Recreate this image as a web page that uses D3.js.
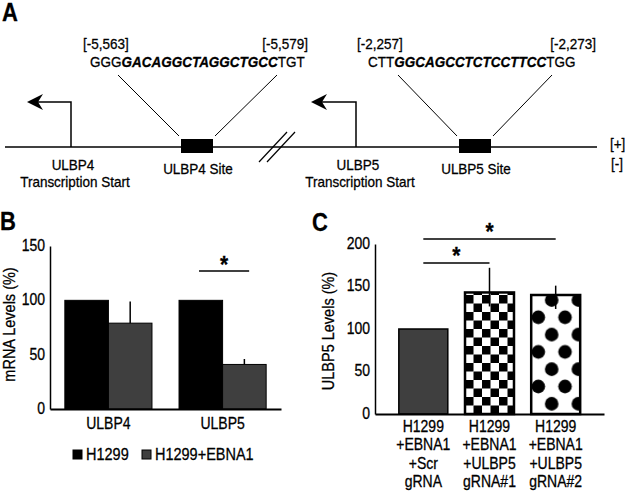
<!DOCTYPE html>
<html><head><meta charset="utf-8">
<script src="https://cdn.jsdelivr.net/npm/d3@7"></script>
<style>
body{margin:0;background:#fff}
svg{display:block}
text{font-family:"Liberation Sans",Arial,Helvetica,sans-serif;fill:#000;stroke:#000;stroke-width:0.25px}
</style>
</head><body>
<script>
// ---------- Panel A (schematic) ----------
const siteLabels = ["ULBP4 Site", "ULBP5 Site"];
const tssLabels = ["ULBP4", "ULBP5"];
const siteStartCoords = ["[-5,563]", "[-2,257]"];
const siteEndCoords = ["[-5,579]", "[-2,273]"];
const seqPrefix = ["GGG", "CTT"];
const seqTarget = ["GACAGGCTAGGCTGCC", "GGCAGCCTCTCCTTCC"];
const seqSuffix = ["TGT", "TGG"];
const strandLabels = ["[+]", "[-]"];

// ---------- Panel B ----------
const bCategories = ["ULBP4", "ULBP5"];
const bSeries = ["H1299", "H1299+EBNA1"];
const bH1299 = [100, 100];
const bEBNA1 = [79, 41];
const bEBNA1Err = [20, 5];
const bTicks = [0, 50, 100, 150];
const bYLabel = "mRNA Levels (%)";

// ---------- Panel C ----------
const cCategories = [
  ["H1299", "+EBNA1", "+Scr", "gRNA"],
  ["H1299", "+EBNA1", "+ULBP5", "gRNA#1"],
  ["H1299", "+EBNA1", "+ULBP5", "gRNA#2"]
];
const cValues = [100, 143, 140];
const cErrors = [0, 29, 11];
const cTicks = [0, 50, 100, 150, 200];
const cYLabel = "ULBP5 Levels (%)";

const W = 625, H = 491;
const svg = d3.select("body").append("svg").attr("width", W).attr("height", H);
const FONT = 14;
const DARK = "#3f3f3f";
const STRETCH = 1.15;

// Panel letters
[["A", 2, 21], ["B", 0, 230], ["C", 312, 231]].forEach(([t, x, y]) =>
  svg.append("text").attr("x", x).attr("y", y).attr("font-size", 22).attr("font-weight", "bold").text(t));

// ===== Panel A =====
const A = svg.append("g");
const ax = d3.scaleLinear().domain([0, 100]).range([5, 597]);
const lineY = 147;
A.append("line").attr("x1", ax(0)).attr("x2", ax(100)).attr("y1", lineY).attr("y2", lineY)
  .attr("stroke", "#000").attr("stroke-width", 1.5);
[0, 8].forEach(dx => {
  A.append("line").attr("x1", 259 + dx).attr("y1", 162).attr("x2", 287 + dx).attr("y2", 132)
    .attr("stroke", "#000").attr("stroke-width", 1.2);
});
const tssX = [71, 356], tipX = [27, 311];
const boxX = [181, 459];
const seqX = [90, 368];
const startX = [83, 357], endX = [308, 596];
const lineTop = [[118, 277], [398, 552]];
tssLabels.forEach((lab, i) => {
  A.append("path").attr("d", `M${tssX[i]},${lineY}V102H${tipX[i] + 10}`)
    .attr("fill", "none").attr("stroke", "#000").attr("stroke-width", 1.5);
  A.append("path").attr("d", `M${tipX[i]},102L${tipX[i] + 16},94L${tipX[i] + 11},102L${tipX[i] + 16},110Z`)
    .attr("fill", "#000");
  A.append("text").attr("x", tssX[i] + 2).attr("y", 170).attr("text-anchor", "middle").attr("font-size", 13.5).text(lab);
  A.append("text").attr("x", tssX[i] + 4).attr("y", 187).attr("text-anchor", "middle").attr("font-size", 13.5).text("Transcription Start");
  A.append("rect").attr("x", boxX[i]).attr("y", 139).attr("width", 32).attr("height", 14).attr("fill", "#000");
  A.append("text").attr("x", boxX[i] + 17).attr("y", 174).attr("text-anchor", "middle").attr("font-size", 13.5).text(siteLabels[i]);
  A.append("line").attr("x1", lineTop[i][0]).attr("y1", 75).attr("x2", boxX[i] - 2).attr("y2", 136)
    .attr("stroke", "#000").attr("stroke-width", 1);
  A.append("line").attr("x1", lineTop[i][1]).attr("y1", 75).attr("x2", boxX[i] + 34).attr("y2", 136)
    .attr("stroke", "#000").attr("stroke-width", 1);
  A.append("text").attr("x", startX[i]).attr("y", 49).attr("font-size", 13.5).text(siteStartCoords[i]);
  A.append("text").attr("x", endX[i]).attr("y", 49).attr("text-anchor", "end").attr("font-size", 13.5).text(siteEndCoords[i]);
  const t = A.append("text").attr("x", seqX[i]).attr("y", 67).attr("font-size", 13.5);
  t.append("tspan").text(seqPrefix[i]);
  t.append("tspan").attr("font-weight", "bold").attr("font-style", "italic").text(seqTarget[i]);
  t.append("tspan").text(seqSuffix[i]);
});
A.append("text").attr("x", 610).attr("y", 149).attr("font-size", 13.5).text(strandLabels[0]);
A.append("text").attr("x", 611).attr("y", 169).attr("font-size", 13.5).text(strandLabels[1]);

// ===== Panel B =====
const B = svg.append("g");
const by = d3.scaleLinear().domain([0, 150]).range([409, 246]);
const bx = d3.scaleBand().domain(bCategories).range([50, 281]).paddingInner(0.237).paddingOuter(0.13);
const bsub = d3.scaleBand().domain(bSeries).range([0, bx.bandwidth()]);
const bColors = d3.scaleOrdinal().domain(bSeries).range(["#000", DARK]);
const bData = bCategories.map((c, i) => ({ c, vals: [bH1299[i], bEBNA1[i]], errs: [0, bEBNA1Err[i]] }));

bData.forEach(d => {
  bSeries.forEach((s, j) => {
    B.append("rect").attr("x", bx(d.c) + bsub(s)).attr("y", by(d.vals[j]))
      .attr("width", bsub.bandwidth()).attr("height", by(0) - by(d.vals[j]))
      .attr("fill", bColors(s)).attr("stroke", "#000").attr("stroke-width", 1);
    if (d.errs[j] > 0) {
      const cxm = bx(d.c) + bsub(s) + bsub.bandwidth() / 2;
      B.append("line").attr("x1", cxm).attr("x2", cxm).attr("y1", by(d.vals[j])).attr("y2", by(d.vals[j] + d.errs[j]))
        .attr("stroke", "#000").attr("stroke-width", 1.5);
    }
  });
});
const bYAxis = B.append("g").attr("transform", "translate(50,0)")
  .call(d3.axisLeft(by).tickValues(bTicks).tickSize(0).tickSizeOuter(0).tickPadding(5));
bYAxis.selectAll("text").attr("font-size", FONT).attr("font-family", null);
bYAxis.select(".domain").attr("stroke-width", 1.5);
const bXAxis = B.append("g").attr("transform", `translate(0,${by(0)})`)
  .call(d3.axisBottom(bx).tickSize(0).tickSizeOuter(0).tickPadding(10));
bXAxis.selectAll("text").attr("font-size", FONT).attr("font-family", null);
bXAxis.select(".domain").attr("stroke-width", 2);
B.append("text").attr("data-rot", 1).attr("transform", `translate(15,${(by(0) + by(150)) / 2 - 3}) rotate(-90)`)
  .attr("text-anchor", "middle").attr("font-size", 14.5).text(bYLabel);
{
  const g = bData[1];
  const x1 = bx(g.c) + 20, x2 = bx(g.c) + bx.bandwidth() - 17;
  B.append("line").attr("x1", x1).attr("x2", x2).attr("y1", 271).attr("y2", 271).attr("stroke", "#000").attr("stroke-width", 1.5);
  B.append("text").attr("x", (x1 + x2) / 2).attr("y", 273).attr("text-anchor", "middle").attr("font-size", 21).attr("font-weight", "bold").text("*");
}
const legX = [73, 142];
bSeries.forEach((s, j) => {
  B.append("rect").attr("x", legX[j]).attr("y", 450).attr("width", 9).attr("height", 9)
    .attr("fill", bColors(s)).attr("stroke", "#000").attr("stroke-width", 1);
  B.append("text").attr("x", legX[j] + 13).attr("y", 460).attr("font-size", 14.5).text(s);
});

// ===== Panel C =====
const C = svg.append("g");
const cy = d3.scaleLinear().domain([0, 200]).range([414, 244]);
const cKeys = cCategories.map((c, i) => "c" + i);
const cx = d3.scaleBand().domain(cKeys).range([375, 604]).paddingInner(0.26).paddingOuter(0.36);
const defs = svg.append("defs");
const cell = 8.5;
const chk = defs.append("pattern").attr("id", "checker").attr("patternUnits", "userSpaceOnUse")
  .attr("x", cx("c1")).attr("y", cy(0)).attr("width", cell * 2).attr("height", cell * 2);
chk.append("rect").attr("width", cell * 2).attr("height", cell * 2).attr("fill", "#fff");
chk.append("rect").attr("width", cell).attr("height", cell).attr("fill", "#000");
chk.append("rect").attr("x", cell).attr("y", cell).attr("width", cell).attr("height", cell).attr("fill", "#000");
const pw = 26.7, ph = 34.6, pr = 6.8;
const dot = defs.append("pattern").attr("id", "dots").attr("patternUnits", "userSpaceOnUse")
  .attr("x", cx("c2") + cx.bandwidth() / 2 - 4).attr("y", cy(cValues[2]) + 5).attr("width", pw).attr("height", ph);
dot.append("rect").attr("width", pw).attr("height", ph).attr("fill", "#fff");
[[0, 0], [pw, 0], [0, ph], [pw, ph], [pw / 2, ph / 2]].forEach(([x, y]) =>
  dot.append("circle").attr("cx", x).attr("cy", y).attr("r", pr).attr("fill", "#000"));
const cFills = [DARK, "url(#checker)", "url(#dots)"];
const cStroke = [1.5, 2.5, 2.5];
cKeys.forEach((k, i) => {
  C.append("rect").attr("x", cx(k)).attr("y", cy(cValues[i])).attr("width", cx.bandwidth())
    .attr("height", cy(0) - cy(cValues[i])).attr("fill", cFills[i]).attr("stroke", "#000").attr("stroke-width", cStroke[i]);
  if (cErrors[i] > 0) {
    const mx = cx(k) + cx.bandwidth() / 2;
    C.append("line").attr("x1", mx).attr("x2", mx).attr("y1", cy(cValues[i]) + 14).attr("y2", cy(cValues[i] + cErrors[i]))
      .attr("stroke", "#000").attr("stroke-width", 1.5);
  }
});
const cYAxis = C.append("g").attr("transform", "translate(375,0)")
  .call(d3.axisLeft(cy).tickValues(cTicks).tickSize(0).tickSizeOuter(0).tickPadding(5));
cYAxis.selectAll("text").attr("font-size", FONT).attr("font-family", null);
cYAxis.select(".domain").attr("stroke-width", 1.5);
const cXAxis = C.append("g").attr("transform", `translate(0,${cy(0)})`)
  .call(d3.axisBottom(cx).tickSize(0).tickSizeOuter(0).tickFormat(() => ""));
cXAxis.select(".domain").attr("stroke-width", 2);
cKeys.forEach((k, i) => {
  cCategories[i].forEach((line, j) => {
    C.append("text").attr("text-anchor", "middle").attr("font-size", FONT)
      .attr("x", cx(k) + cx.bandwidth() / 2).attr("y", cy(0) + 18 + j * 18.4).text(line);
  });
});
C.append("text").attr("data-rot", 1).attr("transform", `translate(334,${(cy(0) + cy(200)) / 2 + 2}) rotate(-90)`)
  .attr("text-anchor", "middle").attr("font-size", 14.5).text(cYLabel);
const sig = [[0, 1, 263], [0, 2, 239]];
sig.forEach(([a, b, y]) => {
  const x1 = cx(cKeys[a]) + cx.bandwidth() / 2;
  const x2 = cx(cKeys[b]) + cx.bandwidth() / 2;
  C.append("line").attr("x1", x1).attr("x2", x2).attr("y1", y).attr("y2", y).attr("stroke", "#000").attr("stroke-width", 1.5);
  C.append("text").attr("x", (x1 + x2) / 2).attr("y", y + 1).attr("text-anchor", "middle")
    .attr("font-size", 21).attr("font-weight", "bold").text("*");
});

// Reference type is slightly taller than Arial: stretch glyphs vertically about each baseline.
svg.selectAll("text").each(function () {
  const el = d3.select(this);
  if (el.attr("data-rot")) { el.attr("transform", el.attr("transform") + ` scale(1,${STRETCH})`); return; }
  const fs = parseFloat(getComputedStyle(this).fontSize);
  const y = parseFloat(el.attr("y") || 0);
  const dyA = el.attr("dy");
  const dy = dyA ? (dyA.endsWith("em") ? parseFloat(dyA) * fs : parseFloat(dyA)) : 0;
  const b = y + dy;
  el.attr("transform", `translate(0,${b}) scale(1,${STRETCH}) translate(0,${-b})`);
});
</script>
</body></html>
